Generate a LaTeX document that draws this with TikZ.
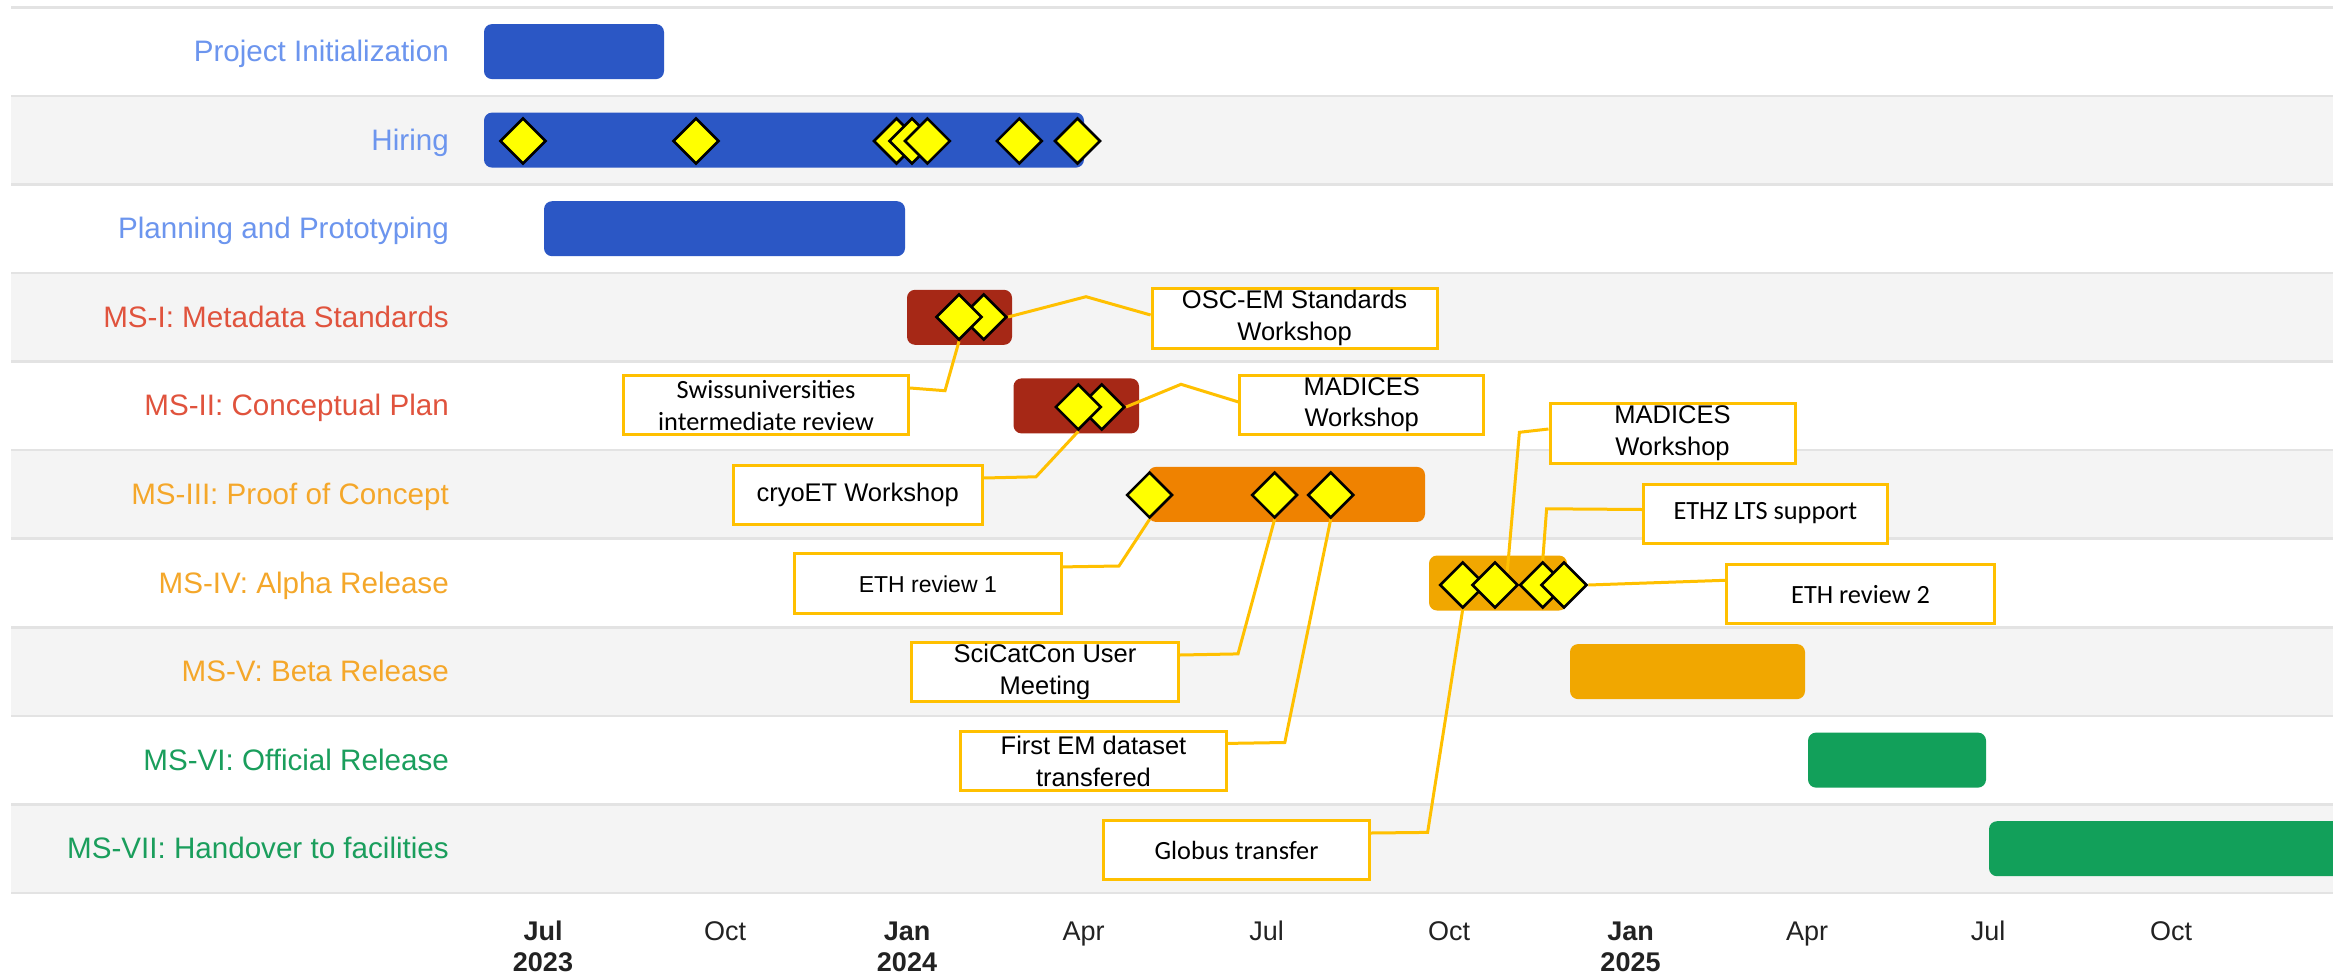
\documentclass[tikz,border=0pt]{standalone}
\usepackage{fontspec}
\setmainfont{Liberation Sans}
\newfontfamily\calfont{Carlito}
\usetikzlibrary{shapes.geometric,calc}
\pgfdeclarelayer{rows}
\pgfdeclarelayer{bars}
\pgfdeclarelayer{links}
\pgfsetlayers{rows,bars,links,main}

\definecolor{rowgray}{HTML}{F4F4F4}
\definecolor{rowline}{HTML}{E3E3E3}
\definecolor{labblue}{HTML}{6C95EE}
\definecolor{labred}{HTML}{E0533D}
\definecolor{laborange}{HTML}{F4A72A}
\definecolor{labgreen}{HTML}{1A9E5C}
\definecolor{barblue}{HTML}{2B57C5}
\definecolor{barred}{HTML}{A62816}
\definecolor{barorange}{HTML}{EF8200}
\definecolor{baramber}{HTML}{F1A700}
\definecolor{bargreen}{HTML}{12A05A}
\definecolor{msyellow}{HTML}{FFFF00}
\definecolor{boxline}{HTML}{FFC000}
\definecolor{axistext}{HTML}{222222}

\begin{document}
\begin{tikzpicture}[x=1pt,y=-1pt,
  rowlabel/.style={anchor=base east, inner sep=0pt, font=\fontsize{29.6}{34}\selectfont},
  ms/.style={diamond, draw=black, fill=msyellow, line width=2.6pt,
    minimum width=46pt, minimum height=46pt, inner sep=0pt},
  note/.style={draw=boxline, line width=3pt, fill=white, inner sep=0pt,
    align=center, font=\fontsize{25.5}{31.5}\selectfont},
  notecal/.style={note, font=\calfont\fontsize{26.3}{32}\selectfont},
  link/.style={draw=boxline, line width=3pt},
  month/.style={anchor=base, inner sep=0pt, font=\fontsize{27}{30}\selectfont, text=axistext},
  year/.style={month, font=\bfseries\fontsize{27}{30}\selectfont},
  bar/.style={rounded corners=8pt}]

\useasboundingbox (0,0) rectangle (2333,974);

% ---------- row stripes ----------
\begin{pgfonlayer}{rows}
  \fill[white] (0,0) rectangle (2333,974);
  \foreach \i in {1,3,5,7,9}
    \fill[rowgray] (11,{7.3+88.57*\i}) rectangle (2333,{7.3+88.57*(\i+1)});
  \foreach \i in {0,...,10}
    \draw[rowline, line width=2.5pt] (11,{7.3+88.57*\i}) -- (2333,{7.3+88.57*\i});
\end{pgfonlayer}

% ---------- task bars ----------
\begin{pgfonlayer}{bars}
  \fill[barblue, bar]   (484,24.1)   rectangle (664,79.1);
  \fill[barblue, bar]   (484,112.6)  rectangle (1084,167.6);
  \fill[barblue, bar]   (544,201.2)  rectangle (905,256.2);
  \fill[barred, bar]    (907,289.8)  rectangle (1012,344.8);
  \fill[barred, bar]    (1013.5,378.4) rectangle (1139,433.4);
  \fill[barorange, bar] (1148,466.9) rectangle (1425,521.9);
  \fill[baramber, bar]  (1429,555.5) rectangle (1567,610.5);
  \fill[baramber, bar]  (1570,644.1) rectangle (1805,699.1);
  \fill[bargreen, bar]  (1808,732.6) rectangle (1986,787.6);
  \fill[bargreen, bar]  (1989,821.2) rectangle (2350,876.2);
\end{pgfonlayer}

% ---------- row labels ----------
\node[rowlabel, text=labblue]   (l0) at (449,61.6)  {Project Initialization};
\node[rowlabel, text=labblue]   (l1) at (449,150.1) {Hiring};
\node[rowlabel, text=labblue]   (l2) at (449,238.7) {Planning and Prototyping};
\node[rowlabel, text=labred]    (l3) at (449,327.3) {MS-I: Metadata Standards};
\node[rowlabel, text=labred]    (l4) at (449,415.9) {MS-II: Conceptual Plan};
\node[rowlabel, text=laborange] (l5) at (449,504.4) {MS-III: Proof of Concept};
\node[rowlabel, text=laborange] (l6) at (449,593.0) {MS-IV: Alpha Release};
\node[rowlabel, text=laborange] (l7) at (449,681.6) {MS-V: Beta Release};
\node[rowlabel, text=labgreen]  (l8) at (449,770.1) {MS-VI: Official Release};
\node[rowlabel, text=labgreen]  (l9) at (449,858.7) {MS-VII: Handover to facilities};

% ---------- milestones ----------
\node[ms] (h1) at (523,141) {};
\node[ms] (h2) at (696,141) {};
\node[ms] (h3) at (896.5,141) {};
\node[ms] (h4) at (912,141) {};
\node[ms] (h5) at (927.4,141) {};
\node[ms] (h6) at (1019.3,141) {};
\node[ms] (h7) at (1077.5,141) {};

\node[ms] (a2) at (983.7,317) {};
\node[ms] (a1) at (959,317) {};

\node[ms] (b2) at (1101.7,407) {};
\node[ms] (b1) at (1078.3,407) {};

\node[ms] (c1) at (1149.6,495) {};
\node[ms] (c2) at (1274.6,495) {};
\node[ms] (c3) at (1330.7,495) {};

\node[ms] (d1) at (1462.7,585) {};
\node[ms] (d2) at (1495,585) {};
\node[ms] (d3) at (1542.7,585) {};
\node[ms] (d4) at (1564,585) {};

% ---------- callouts ----------
\node[note, minimum width=285pt, minimum height=60pt] (osc) at (1294.6,318) {OSC-EM Standards\\Workshop};
\node[note, minimum width=244pt, minimum height=59pt] (mad1) at (1361.7,404.9) {MADICES\\Workshop};
\node[note, minimum width=245pt, minimum height=60pt] (mad2) at (1672.5,433) {MADICES\\Workshop};
\node[notecal, minimum width=244pt, minimum height=59pt] (ethz) at (1765.4,513.5) {ETHZ LTS support};
\node[notecal, minimum width=268pt, minimum height=59pt] (rev2) at (1860.5,594.3) {ETH review 2};
\node[notecal, minimum width=266pt, minimum height=59pt] (glob) at (1236.5,850) {Globus transfer};
\node[note, minimum width=267pt, minimum height=59pt] (scicat) at (1045,672) {SciCatCon User\\Meeting};
\node[note, minimum width=266pt, minimum height=59pt] (firstem) at (1093.5,761.4) {First EM dataset\\transfered};
\node[note, minimum width=267pt, minimum height=60pt, font=\fontsize{23}{28}\selectfont] (rev1) at (927.8,583.9) {ETH review 1};
\node[note, minimum width=249pt, minimum height=59pt] (cryo) at (857.6,495) {cryoET Workshop};
\node[notecal, minimum width=285pt, minimum height=59pt] (swiss) at (766,405) {Swissuniversities\\intermediate review};

% ---------- callout connectors ----------
\begin{pgfonlayer}{links}
  \draw[link] (a2.east) -- (1086,296.7) -- ($(osc.west)+(0,-3)$);
  \draw[link] (b2.east) -- (1181,384.3) -- ($(mad1.west)+(0,-3)$);
  \draw[link] ($(mad2.west)+(0,-4)$) -- (1519.4,432.3) -- (d2.north east);
  \draw[link] ($(ethz.west)+(0,-4)$) -- (1546.6,508.8) -- (d3.north);
  \draw[link] (d4.east) -- ($(rev2.west)+(0,-14)$);
  \draw[link] ($(glob.east)+(0,-17)$) -- (1427.6,832.4) -- (d1.south);
  \draw[link] ($(scicat.east)+(0,-17)$) -- (1238,653.9) -- (c2.south);
  \draw[link] ($(firstem.east)+(0,-18)$) -- (1284.8,742.5) -- (c3.south);
  \draw[link] ($(rev1.east)+(0,-17)$) -- (1119,566) -- (c1.south);
  \draw[link] ($(cryo.east)+(0,-17)$) -- (1036,476.8) -- (b1.south);
  \draw[link] ($(swiss.east)+(0,-17)$) -- (945,390.7) -- (a1.south);
\end{pgfonlayer}

% ---------- time axis ----------
\node[year]  (m0) at (543,940)    {Jul};
\node[year]  (y0) at (543,971)    {2023};
\node[month] (m1) at (725,940)    {Oct};
\node[year]  (m2) at (907,940)    {Jan};
\node[year]  (y2) at (907,971)    {2024};
\node[month] (m3) at (1083.5,940) {Apr};
\node[month] (m4) at (1266.5,940) {Jul};
\node[month] (m5) at (1449,940)   {Oct};
\node[year]  (m6) at (1630.5,940) {Jan};
\node[year]  (y6) at (1630.5,971) {2025};
\node[month] (m7) at (1807,940)   {Apr};
\node[month] (m8) at (1988,940)   {Jul};
\node[month] (m9) at (2171,940)   {Oct};

\end{tikzpicture}
\end{document}
